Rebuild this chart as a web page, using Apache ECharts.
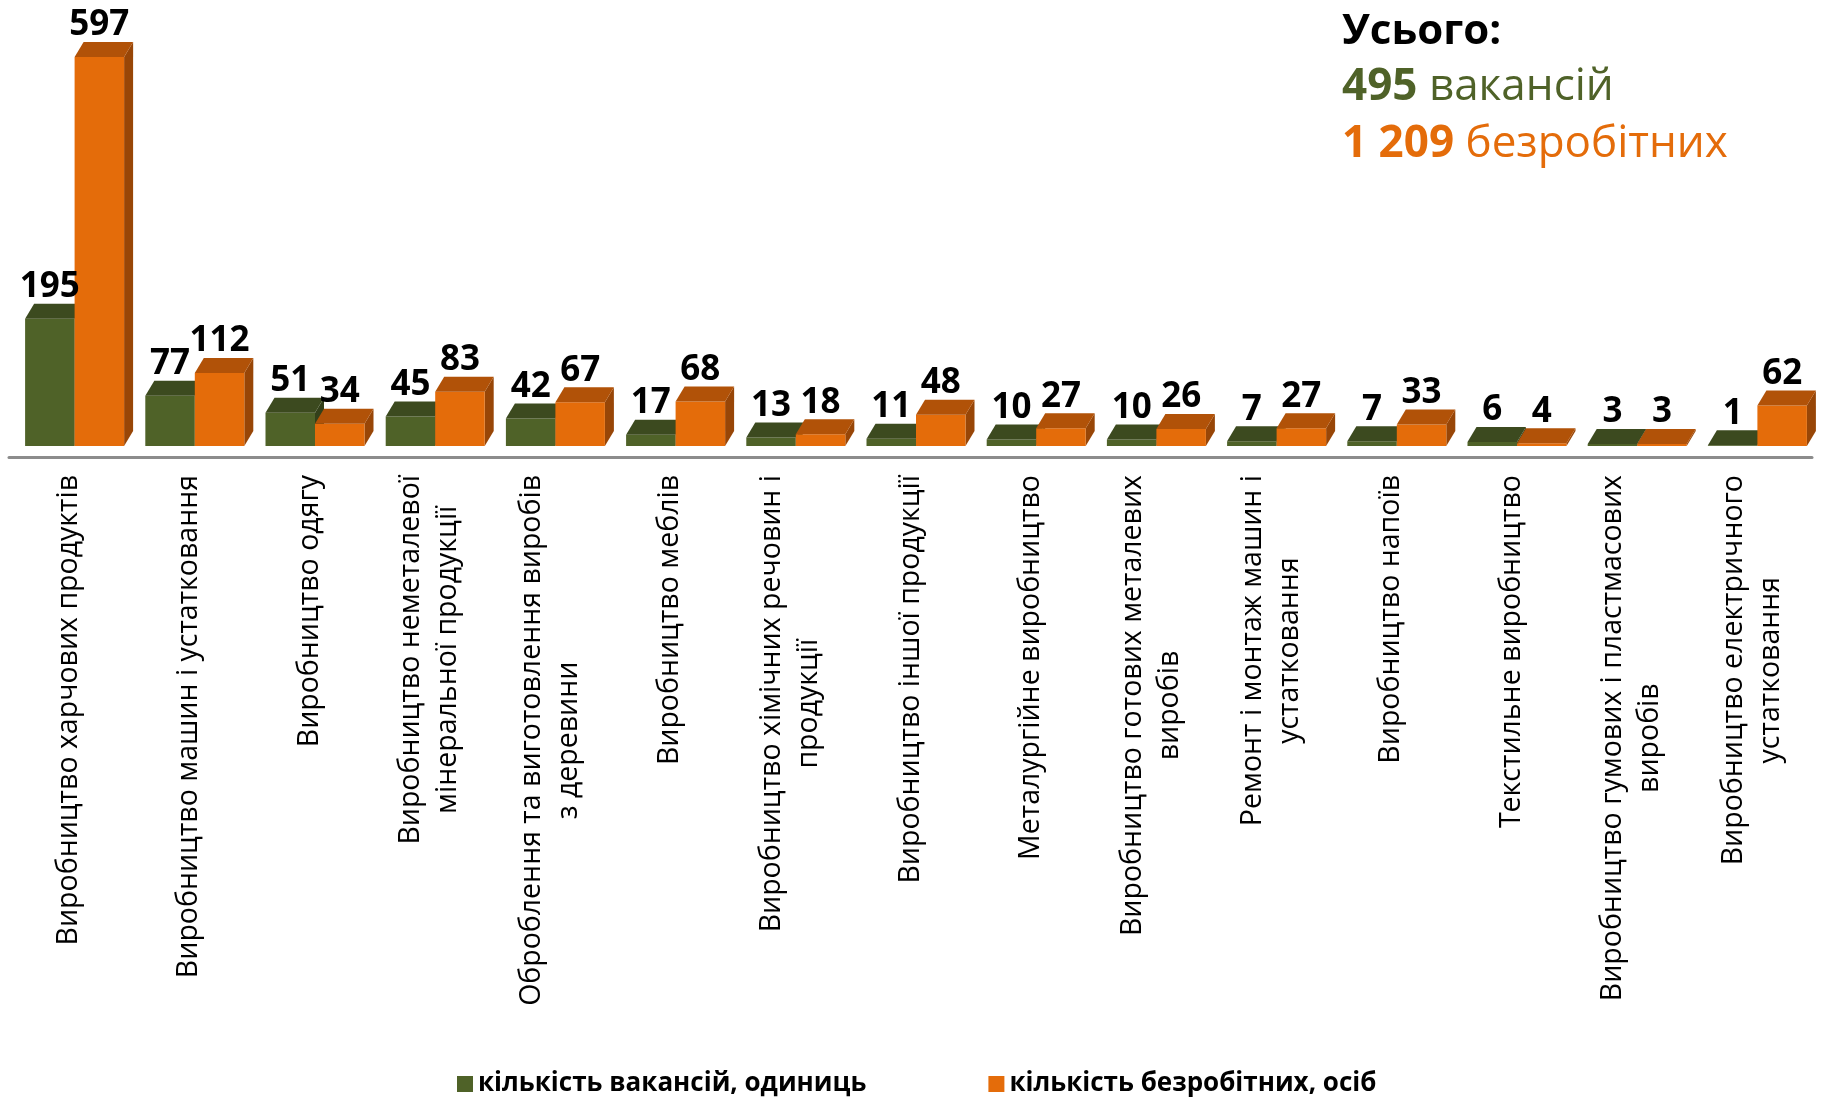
<!DOCTYPE html>
<html>
<head>
<meta charset="utf-8">
<script src="https://cdn.jsdelivr.net/npm/echarts@6/dist/echarts.min.js"></script>
<style>
  html, body { margin: 0; padding: 0; background: #fff; }
  #main { width: 1825px; height: 1097px; }
</style>
</head>
<body>
<div id="main"></div>
<script>
var categories = [
    'Виробництво харчових продуктів',
    'Виробництво машин і устатковання',
    'Виробництво одягу',
    'Виробництво неметалевої\nмінеральної продукції',
    'Оброблення та виготовлення виробів\nз деревини',
    'Виробництво меблів',
    'Виробництво хімічних речовин і\nпродукції',
    'Виробництво іншої продукції',
    'Металургійне виробництво',
    'Виробництво готових металевих\nвиробів',
    'Ремонт і монтаж машин і\nустатковання',
    'Виробництво напоїв',
    'Текстильне виробництво',
    'Виробництво гумових і пластмасових\nвиробів',
    'Виробництво електричного\nустатковання'
];
var vacancies = [195, 77, 51, 45, 42, 17, 13, 11, 10, 10, 7, 7, 6, 3, 1];
var unemployed = [597, 112, 34, 83, 67, 68, 18, 48, 27, 26, 27, 33, 4, 3, 62];
var seriesNames = ['кількість вакансій, одиниць', 'кількість безробітних, осіб'];
var totalVacancies = '495';
var totalUnemployed = '1 209';

var myChart = echarts.init(document.getElementById('main'));

// кольори граней: фронт, верх, бік
var faces = [
    {front: '#4f6228', top: '#3c4a1f', side: '#33401a'},
    {front: '#e46c0a', top: '#b15208', side: '#984607'}
];
var barW = 49.5, dx = 9, dy = 15, shift = 5.5;

function make3d(side) {
    return function (params, api) {
        var i = api.value(0), v = api.value(1);
        var base = api.coord([i, 0]);
        var top = api.coord([i, v]);
        var cx = base[0] + shift;
        var x0 = side === 0 ? cx - barW : cx;
        var x1 = x0 + barW;
        var ty = top[1], by = base[1];
        var c = faces[side];
        return {
            type: 'group',
            children: [
                {type: 'polygon', shape: {points: [[x1, ty], [x1 + dx, ty - dy], [x1 + dx, by - dy], [x1, by]]},
                    style: {fill: c.side}},
                {type: 'rect', shape: {x: x0, y: ty, width: barW, height: by - ty},
                    style: {fill: c.front}},
                {type: 'polygon', shape: {points: [[x0, ty], [x0 + dx, ty - dy], [x1 + dx, ty - dy], [x1, ty]]},
                    style: {fill: c.top}},
                {type: 'text', z2: 10, style: {
                    text: String(v), x: x0 + barW / 2, y: ty - dy + 1,
                    align: 'center', verticalAlign: 'bottom',
                    font: 'bold 35px "Open Sans"', fill: '#000'
                }}
            ]
        };
    };
}

function toData(arr) {
    return arr.map(function (v, i) { return [i, v]; });
}

var option = {
    animation: false,
    grid: {left: 9, right: 13, top: 40, bottom: 640},
    legend: {
        data: seriesNames,
        left: 452,
        top: 1066,
        icon: 'rect',
        itemWidth: 16,
        itemHeight: 16,
        itemGap: 122,
        textStyle: {fontFamily: '"Open Sans"', fontWeight: 'bold', fontSize: 26, color: '#000'}
    },
    xAxis: {
        type: 'category',
        data: categories,
        axisTick: {show: false},
        axisLine: {onZero: false, lineStyle: {color: '#8c8c8c', width: 3}},
        axisLabel: {
            interval: 0,
            rotate: 90,
            margin: 18,
            formatter: function (val) {
                return val.split('\n').map(function (s) { return '{c|' + s + '}'; }).join('\n');
            },
            rich: {
                c: {align: 'center', fontFamily: '"Open Sans"', fontSize: 28.5, lineHeight: 37, color: '#000'}
            }
        }
    },
    yAxis: {type: 'value', min: -17, max: 623, show: false, splitLine: {show: false}},
    graphic: [
        {type: 'text', left: 1342, top: 11, style: {
            text: 'Усього:', font: 'bold 42px "Open Sans"', fill: '#000'
        }},
        {type: 'text', left: 1342, top: 65, style: {
            text: '{b|' + totalVacancies + ' }{r|вакансій}',
            rich: {
                b: {font: 'bold 44px "Open Sans"', fill: '#4f6228'},
                r: {font: '44px "Open Sans"', fill: '#4f6228'}
            }
        }},
        {type: 'text', left: 1342, top: 122, style: {
            text: '{b|' + totalUnemployed + ' }{r|безробітних}',
            rich: {
                b: {font: 'bold 44px "Open Sans"', fill: '#e46c0a'},
                r: {font: '44px "Open Sans"', fill: '#e46c0a'}
            }
        }}
    ],
    series: [
        {
            name: seriesNames[0], type: 'custom', renderItem: make3d(0),
            itemStyle: {color: faces[0].front}, clip: false,
            encode: {x: 0, y: 1}, data: toData(vacancies)
        },
        {
            name: seriesNames[1], type: 'custom', renderItem: make3d(1),
            itemStyle: {color: faces[1].front}, clip: false,
            encode: {x: 0, y: 1}, data: toData(unemployed)
        }
    ]
};
myChart.setOption(option);
</script>
</body>
</html>
